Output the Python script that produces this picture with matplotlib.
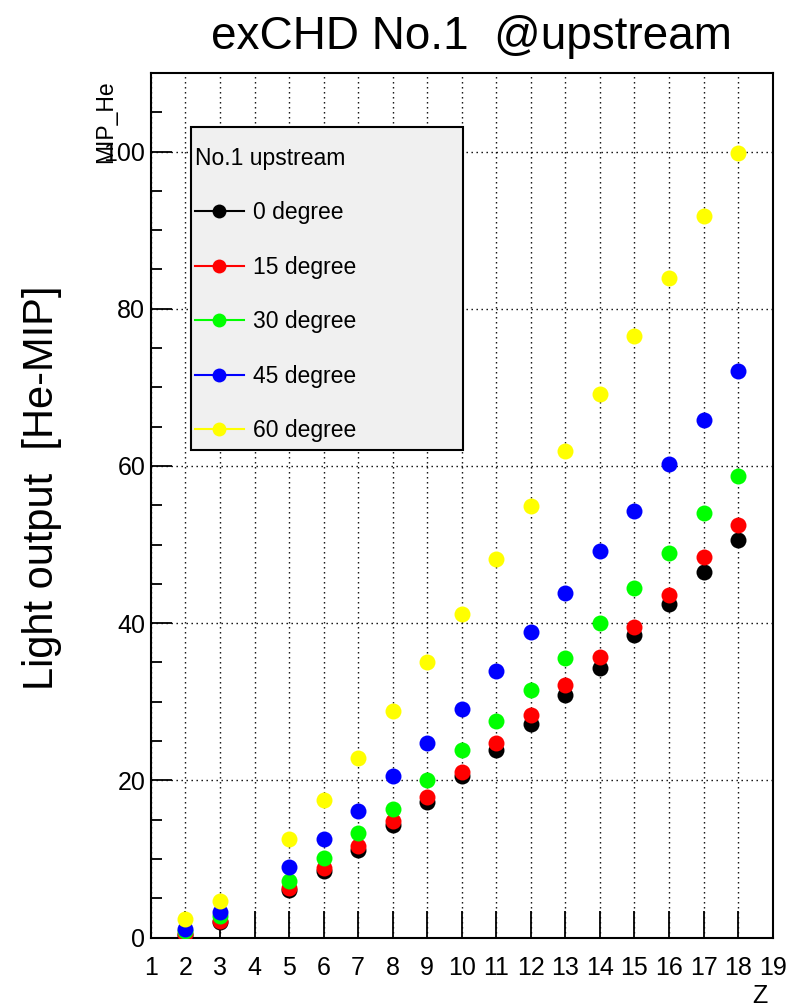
import numpy as np
import matplotlib
matplotlib.use("Agg")
import matplotlib.pyplot as plt
from matplotlib.lines import Line2D
from matplotlib.patches import Rectangle
from matplotlib.ticker import MultipleLocator

plt.rcParams['font.family'] = ['Liberation Sans', 'DejaVu Sans']

# Dados (Z vs luz em He-MIP)
z = [2, 3, 5, 6, 7, 8, 9, 10, 11, 12, 13, 14, 15, 16, 17, 18]
deg0 = [0.3, 2.0, 6.0, 8.5, 11.2, 14.3, 17.3, 20.5, 23.8, 27.2, 30.8, 34.3, 38.5, 42.4, 46.5, 50.6]
deg15 = [0.4, 2.1, 6.3, 8.8, 11.7, 14.8, 17.9, 21.1, 24.8, 28.3, 32.1, 35.7, 39.5, 43.6, 48.4, 52.5]
deg30 = [0.8, 2.7, 7.2, 10.1, 13.3, 16.4, 20.0, 23.8, 27.6, 31.5, 35.6, 40.0, 44.5, 48.9, 54.0, 58.7]
deg45 = [1.1, 3.3, 9.0, 12.5, 16.1, 20.5, 24.7, 29.1, 33.9, 38.9, 43.9, 49.2, 54.3, 60.2, 65.8, 72.1]
deg60 = [2.3, 4.6, 12.5, 17.5, 22.9, 28.8, 35.0, 41.2, 48.1, 54.9, 61.9, 69.1, 76.5, 83.9, 91.8, 99.8]

labels = ['0 degree', '15 degree', '30 degree', '45 degree', '60 degree']
colors = ['#000000', '#ff0000', '#00ff00', '#0000ff', '#ffff00']
series = [deg0, deg15, deg30, deg45, deg60]

fig = plt.figure(figsize=(7.9, 10.08), dpi=100)
ax = fig.add_axes([0.191, 0.0699, 0.787, 0.8577])

for vals, c in zip(series, colors):
    ax.plot(z, vals, linestyle='none', marker='o', markersize=11.5,
            markerfacecolor=c, markeredgewidth=0, zorder=4)

ax.set_xlim(1, 19)
ax.set_ylim(0, 110)
ax.xaxis.set_major_locator(MultipleLocator(1))
ax.yaxis.set_major_locator(MultipleLocator(20))
ax.yaxis.set_minor_locator(MultipleLocator(5))

ax.grid(True, which='major', color='black', linewidth=1, linestyle=(0, (1, 2.6)), zorder=1)
ax.tick_params(axis='x', which='major', direction='in', length=19.5, width=1.3,
               labelsize=18, pad=13, top=False)
ax.tick_params(axis='y', which='major', direction='in', length=15, width=1.3,
               labelsize=18, pad=4, right=False)
ax.tick_params(axis='y', which='minor', direction='in', length=8, width=1.3, right=False)
for s in ax.spines.values():
    s.set_linewidth(1.5)

# caixa da legenda
box = Rectangle((0.0643, 0.564), 0.4373, 0.374, transform=ax.transAxes,
                facecolor='#f0f0f0', edgecolor='black', linewidth=1.5, zorder=5)
ax.add_patch(box)
handles = [Line2D([], [], color=c, linewidth=1.5, marker='o', markersize=10,
                  markerfacecolor=c, markeredgewidth=0) for c in colors]
leg = ax.legend(handles, labels, title='No.1 upstream', title_fontsize=16.5, fontsize=16.5,
                loc='upper left', bbox_to_anchor=(0.0707, 0.9145), frameon=False,
                borderpad=0, borderaxespad=0, labelspacing=1.375, handlelength=2.15,
                handletextpad=0.4, alignment='left')
leg.set_zorder(6)

fig.text(471/790, 1-37/1008, 'exCHD No.1  @upstream', fontsize=33, ha='center', va='center')
fig.text(42/790, 0.516, 'Light output  [He-MIP]', fontsize=30, rotation=90,
         ha='center', va='center')
fig.text(106/790, 1-80/1008, 'MIP_He', fontsize=16.5, rotation=90, ha='center', va='top')
fig.text(760/790, 1-996/1008, 'Z', fontsize=18, ha='center', va='center')

plt.savefig('out.png', dpi=100)
